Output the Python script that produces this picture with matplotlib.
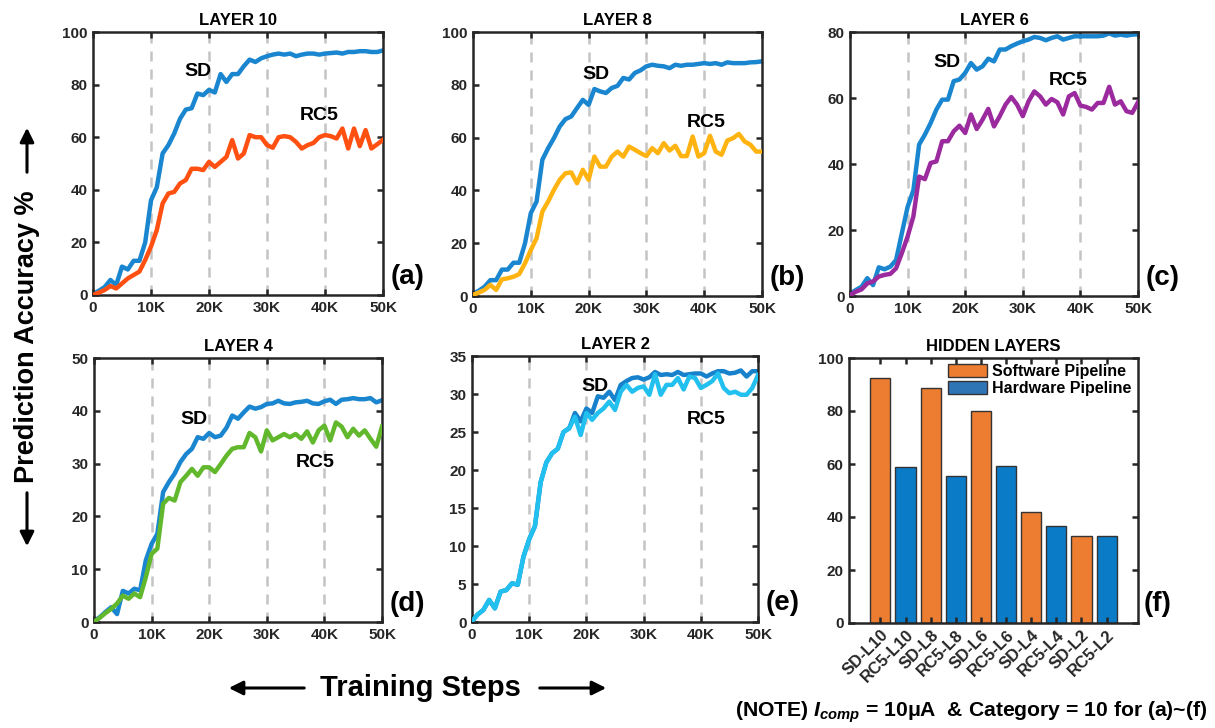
import numpy as np
import matplotlib
matplotlib.use("Agg")
import matplotlib.pyplot as plt
from matplotlib.patches import Patch, FancyArrowPatch

plt.rcParams['font.family'] = ['Liberation Sans', 'DejaVu Sans']
plt.rcParams['font.weight'] = 'bold'
plt.rcParams['mathtext.fontset'] = 'custom'
plt.rcParams['mathtext.it'] = 'Liberation Sans:italic:bold'
plt.rcParams['mathtext.rm'] = 'Liberation Sans:bold'

# ---------------- data ----------------
steps_k = np.arange(0, 51)  # training steps in thousands
xtick_vals = [0, 10, 20, 30, 40, 50]
xtick_labels = ["0", "10K", "20K", "30K", "40K", "50K"]

l10_sd = [0.4, 1.6, 3, 5.7, 3.8, 10.8, 9.7, 13, 13, 20, 36, 41, 53.8, 57, 61.4, 67, 70.5, 71, 76.6, 76,
          78, 77, 84, 81, 84, 84, 87, 89.5, 88.6, 90, 90.8, 91.4, 91.8, 91.4, 91.8, 90.8, 91.4, 91.8, 91.8, 91.4,
          91.8, 92, 92.2, 91.8, 92.4, 92.4, 92.7, 92.7, 92.4, 92.4, 93]
l10_rc5 = [0, 0.9, 1.9, 3.4, 2.5, 4.4, 6.3, 7.6, 8.9, 13.3, 18.4, 24.7, 34.8, 38.6, 39.2, 42.4, 43.7, 48, 48, 47.5,
           50.6, 48.7, 50.6, 52.5, 58.9, 51.9, 53.8, 60.8, 60, 60, 57, 56, 60, 60.4, 60, 58.2, 55.7, 57, 57.8, 60,
           60.8, 60.4, 59.5, 63.3, 55.7, 63.3, 56.6, 62.7, 55.7, 57.3, 59]

l8_sd = [0.8, 2, 3.5, 6, 6, 10, 10, 12.6, 12.6, 20, 31.4, 35.8, 51.6, 56, 59.8, 64.2, 67, 68, 71.2, 74.3,
         72.4, 78.4, 77.5, 76.9, 78.8, 79.6, 82.6, 82, 84.5, 85.5, 87, 87.6, 87.2, 87, 86.3, 87.6, 87.2, 87.6, 87.6, 87.9,
         88.2, 87.9, 88.2, 87.6, 88.5, 88.2, 88.2, 88.2, 88.5, 88.6, 88.9]
l8_rc5 = [0.4, 1.3, 2.3, 4.2, 2.3, 6.3, 6.7, 7.3, 8.3, 12.4, 17.4, 21.9, 32, 35.8, 40.2, 44, 46.5, 46.8, 42.7, 47.8,
          44, 52.8, 49, 49, 52.8, 54.7, 52.8, 56.6, 55.4, 54.1, 53, 56, 54.1, 57.9, 55.1, 56.9, 53, 53, 60.4, 52.8,
          54.1, 60.7, 54.7, 53.5, 58.9, 59.8, 61.4, 58.5, 57.3, 54.7, 54.7]

l6_sd = [0.6, 1.8, 2.8, 5.4, 3.3, 8.7, 8.1, 8.9, 10.9, 19, 27, 32, 45.9, 48.9, 52.4, 56.5, 59.5, 59.5, 65.1, 65.6,
         67.6, 70.6, 68.6, 69.6, 71.9, 71.1, 74.7, 74.7, 75.7, 76.5, 77.2, 77.7, 78.5, 78.2, 77.5, 78.2, 78.7, 77.7, 78.2, 78.7,
         78.7, 78.7, 78.7, 78.7, 78.9, 79.6, 78.9, 79.2, 78.9, 79.2, 79.3]
l6_rc5 = [0.3, 1.3, 2, 3.8, 4.4, 5.9, 6.4, 6.7, 8.4, 13, 18, 24.1, 36.2, 35.4, 40.3, 40.8, 46.9, 46.9, 49.9, 51.6,
          49.4, 55, 50.6, 53.4, 56.7, 51.4, 54.5, 58, 60.3, 58, 54.5, 59, 62, 60.5, 58, 59.7, 58.7, 55, 60.5, 61.5,
          57.7, 57.3, 56.5, 58.5, 58.5, 63.4, 58, 59, 56, 55.5, 58.7]

l4_sd = [0.2, 0.9, 1.9, 2.8, 1.5, 5.9, 5.4, 6.3, 6, 11.7, 14.8, 16.7, 24.6, 26.5, 28.1, 30.3, 31.8, 32.8, 35, 34.7,
         35.8, 35, 35.3, 36.8, 39.1, 38.5, 39.7, 40.8, 40.4, 40.7, 41.3, 41.4, 41.9, 41.4, 41.3, 41.6, 41.7, 41.9, 41.4, 41.3,
         41.8, 42.1, 41.3, 42.1, 42.2, 42.4, 42.2, 42.2, 42.4, 41.6, 42]
l4_rc5 = [0, 0.8, 1.7, 2.5, 3.5, 5, 4.4, 5.4, 4.7, 8.5, 12.9, 13.9, 22.4, 23.5, 23, 26.5, 27.7, 29, 27.7, 29.3,
          29.3, 28.4, 29.9, 31.5, 32.8, 33.1, 33.1, 35.8, 35, 32.3, 36.3, 34.4, 35, 35.6, 35, 35.6, 34.7, 36.1, 34, 36.3,
          37.2, 34.4, 37.8, 37, 35, 36.6, 35.3, 36.3, 34.7, 33.2, 37]

l2_sd = [0.1, 1, 1.6, 2.9, 1.8, 4, 4.2, 5.1, 4.9, 8.6, 10.9, 12.6, 18.4, 21, 22.2, 22.8, 25, 25.5, 27.5, 26.4,
         28.1, 27.5, 29.7, 29.5, 30.3, 29.2, 31.2, 31.7, 32.1, 32.2, 31.9, 32.2, 32.9, 32.5, 32.6, 32.5, 32.9, 32.5, 32.6, 32.7,
         32.7, 32.3, 32.7, 33, 33, 32.7, 32.8, 33.1, 32.3, 33, 33]
l2_rc5 = [0.1, 1, 1.6, 2.9, 1.8, 4, 4.2, 5.1, 4.9, 8.6, 10.9, 12.6, 18.4, 21, 22.2, 22.8, 25, 25.5, 27, 24.6,
          27.5, 26.6, 27.5, 28.1, 29, 27.9, 30.3, 31.2, 30.3, 30.8, 31, 29.9, 32.6, 29.9, 31.2, 31.2, 32.1, 30.6, 32.3, 32.1,
          30.8, 31.2, 31.7, 32.7, 30.8, 30.1, 30.3, 29.9, 29.9, 30.8, 32.5]

bar_labels = ["SD-L10", "RC5-L10", "SD-L8", "RC5-L8", "SD-L6", "RC5-L6", "SD-L4", "RC5-L4", "SD-L2", "RC5-L2"]
bar_values = [92.3, 59, 88.6, 55.3, 80, 59.3, 41.7, 36.7, 33, 32.8]
bar_kind = ["sw", "hw", "sw", "hw", "sw", "hw", "sw", "hw", "sw", "hw"]

# ---------------- style ----------------
W, H = 1215, 728
fig = plt.figure(figsize=(W / 100, H / 100), dpi=100)
DARK = '#262626'
SD_BLUE = '#1a86d0'


def px_axes(x0, y0, x1, y1):
    return fig.add_axes([x0 / W, 1 - y1 / H, (x1 - x0) / W, (y1 - y0) / H])


def style_axes(ax, labelsize=11):
    for s in ax.spines.values():
        s.set_linewidth(1.8)
        s.set_color(DARK)
    ax.tick_params(direction='in', length=4, width=1.8, color=DARK, top=True, right=True,
                   labelsize=labelsize, labelcolor=DARK, pad=4)
    for lab in ax.get_xticklabels() + ax.get_yticklabels():
        lab.set_fontweight('bold')


panels = [
    dict(box=(93, 32, 383, 295), title="LAYER 10", sd=l10_sd, rc=l10_rc5, rc_color='#ff5012',
         ylim=100, ystep=20, sd_pos=(18.1, 84.8), rc_pos=(39.0, 68.3), tag="(a)", sd_color=SD_BLUE),
    dict(box=(473, 32, 762, 296), title="LAYER 8", sd=l8_sd, rc=l8_rc5, rc_color='#ffb310',
         ylim=100, ystep=20, sd_pos=(21.2, 83.9), rc_pos=(40.3, 65.9), tag="(b)", sd_color=SD_BLUE),
    dict(box=(850, 32, 1138, 296), title="LAYER 6", sd=l6_sd, rc=l6_rc5, rc_color='#9c2a9f',
         ylim=80, ystep=20, sd_pos=(16.75, 70.9), rc_pos=(37.8, 65.3), tag="(c)", sd_color=SD_BLUE),
    dict(box=(94, 358, 382, 622), title="LAYER 4", sd=l4_sd, rc=l4_rc5, rc_color='#62b82c',
         ylim=50, ystep=10, sd_pos=(17.4, 38.4), rc_pos=(38.4, 30.2), tag="(d)", sd_color=SD_BLUE),
    dict(box=(472, 356, 758, 622), title="LAYER 2", sd=l2_sd, rc=l2_rc5, rc_color='#22c0ef',
         ylim=35, ystep=5, sd_pos=(21.5, 31.05), rc_pos=(41.0, 26.6), tag="(e)", sd_color='#1781cc'),
]

for p in panels:
    ax = px_axes(*p['box'])
    for gx in xtick_vals[1:-1]:
        ax.axvline(gx, color='#c4c4c4', lw=1.8, ls=(0, (4, 3.2)), zorder=0)
    ax.plot(steps_k, p['sd'], color=p['sd_color'], lw=3.2, solid_joinstyle='round', zorder=2)
    ax.plot(steps_k, p['rc'], color=p['rc_color'], lw=3.2, solid_joinstyle='round', zorder=3)
    ax.set_xlim(0, 50)
    ax.set_ylim(0, p['ylim'])
    ax.set_xticks(xtick_vals)
    ax.set_xticklabels(xtick_labels)
    ax.set_yticks(np.arange(0, p['ylim'] + 0.1, p['ystep']))
    ax.set_title(p['title'], fontsize=12, fontweight='bold', pad=5)
    ax.text(*p['sd_pos'], "SD", fontsize=14, fontweight='bold', ha='center', va='center', zorder=5)
    ax.text(*p['rc_pos'], "RC5", fontsize=14, fontweight='bold', ha='center', va='center', zorder=5)
    ax.text(1.025, 0.07, p['tag'], transform=ax.transAxes, fontsize=20, fontweight='bold',
            ha='left', va='center')
    style_axes(ax)

# ---------------- bar panel ----------------
axf = px_axes(849, 358, 1138, 623)
colors = {'sw': '#ed7d31', 'hw': '#0a7bc6'}
pos = np.arange(1, len(bar_values) + 1)
axf.bar(pos, bar_values, width=0.8, color=[colors[k] for k in bar_kind], edgecolor='#333333', linewidth=1.0)
axf.set_xlim(-0.25, 11.25)
axf.set_ylim(0, 100)
axf.set_yticks(np.arange(0, 101, 20))
axf.set_xticks(pos)
axf.set_xticklabels(bar_labels, rotation=45, ha='right', rotation_mode='anchor')
axf.set_title("HIDDEN LAYERS", fontsize=12, fontweight='bold', pad=5)
handles = [Patch(facecolor='#ed7d31', edgecolor='#333333', label='Software Pipeline'),
           Patch(facecolor='#2e75b6', edgecolor='#333333', label='Hardware Pipeline')]
axf.legend(handles=handles, loc='upper right', frameon=False, handlelength=2.5,
           handleheight=0.85, handletextpad=0.3, labelspacing=0.1, borderaxespad=0.0,
           bbox_to_anchor=(1.0, 1.0), prop={'weight': 'bold', 'size': 11.5})
axf.text(1.02, 0.07, "(f)", transform=axf.transAxes, fontsize=20, fontweight='bold',
         ha='left', va='center')
style_axes(axf)
axf.tick_params(axis='x', labelsize=12, pad=3)

# ---------------- global labels ----------------
fig.text(27 / W, 1 - 337 / H, "Prediction Accuracy %", rotation=90, fontsize=19.5, fontweight='bold',
         ha='center', va='center')
fig.text(420 / W, 1 - 688 / H, "Training Steps", fontsize=21, fontweight='bold', ha='center', va='center')
arrow_kw = dict(arrowstyle='-|>,head_length=0.6,head_width=0.3', color='black', lw=2.2)
for (x0, y0), (x1, y1) in [((27, 175), (27, 125)), ((27, 490), (27, 549)),
                           ((307, 688), (226, 688)), ((537, 688), (609, 688))]:
    fig.add_artist(FancyArrowPatch((x0 / W, 1 - y0 / H), (x1 / W, 1 - y1 / H),
                                   transform=fig.transFigure, mutation_scale=14, **arrow_kw))

fig.text(1207 / W, 1 - 712 / H, r"(NOTE) $I_{comp}$ = 10μA  & Category = 10 for (a)~(f)",
         fontsize=15.2, fontweight='bold', ha='right', va='center')

fig.savefig("out.png", dpi=100)
